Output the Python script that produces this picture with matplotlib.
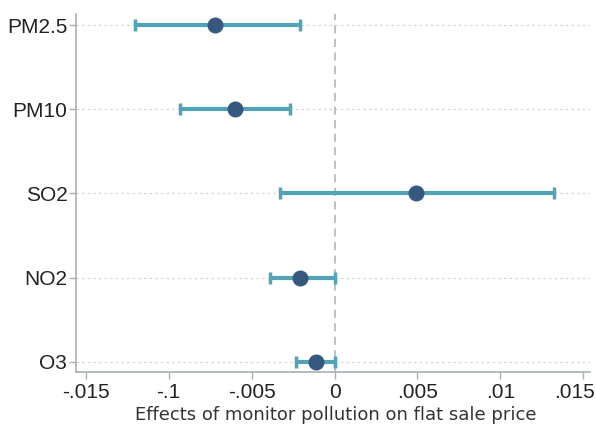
import matplotlib
matplotlib.use("Agg")
import matplotlib.pyplot as plt
from matplotlib.transforms import blended_transform_factory, offset_copy

pollutants = ["PM2.5", "PM10", "SO2", "NO2", "O3"]
estimates = [-0.0072, -0.0060, 0.0049, -0.0021, -0.0011]
ci_low = [-0.0120, -0.0093, -0.0033, -0.0039, -0.0023]
ci_high = [-0.0021, -0.0027, 0.0132, 0.0000, 0.0000]
xtick_values = [-0.015, -0.010, -0.005, 0.0, 0.005, 0.010, 0.015]
xtick_labels = ["-.015", "-.1", "-.005", "0", ".005", ".01", ".015"]
xlabel = "Effects of monitor pollution on flat sale price"

fig = plt.figure(figsize=(5.96, 4.28), dpi=100)
ax = fig.add_axes([0.127, 0.131, 0.863, 0.836])

ypos = list(range(len(pollutants)))
for y in ypos:
    ax.axhline(y, color="#d2d6d6", lw=0.9, ls=(0, (2, 2.5)), zorder=0)
ax.axvline(0, color="#b8bcbc", lw=1.3, ls=(0, (4.5, 3)), zorder=1)

xerr = [[e - l for e, l in zip(estimates, ci_low)], [h - e for e, h in zip(estimates, ci_high)]]
ax.errorbar(estimates, ypos, xerr=xerr, fmt="none", ecolor="#52a3b6",
            elinewidth=3, capsize=4.5, capthick=2.5, zorder=2)
ax.plot(estimates, ypos, "o", color="#36587f", ms=10.5, zorder=3)

ax.set_xlim(-0.0156, 0.0154)
ax.set_ylim(4.12, -0.13)
ax.set_yticks(ypos)
ax.set_yticklabels(pollutants, fontsize=15, family="Liberation Sans", color="#222222")
ax.set_xticks(xtick_values)
# last label drawn separately, shifted left so it stays inside the figure
ax.set_xticklabels(xtick_labels[:-1] + [""], fontsize=15, family="Liberation Sans", color="#222222")
trans = offset_copy(blended_transform_factory(ax.transData, ax.transAxes),
                    fig=fig, x=-6.5, y=-8, units="points")
ax.text(xtick_values[-1], 0, xtick_labels[-1], transform=trans, ha="center", va="top",
        fontsize=15, family="Liberation Sans", color="#222222")

fig.text(336 / 596, 1 - 415 / 428, xlabel, ha="center", va="center",
         fontsize=13, family="DejaVu Sans", color="#333333")

for s in ["top", "right"]:
    ax.spines[s].set_visible(False)
for s in ["left", "bottom"]:
    ax.spines[s].set_color("#a8b0b0")
    ax.spines[s].set_linewidth(1.2)
ax.tick_params(axis="both", colors="#a8b0b0", length=5, width=1)
ax.tick_params(axis="both", labelcolor="#222222")
ax.tick_params(axis="y", pad=1)
ax.tick_params(axis="x", pad=3)

fig.savefig("out.png", dpi=100)
